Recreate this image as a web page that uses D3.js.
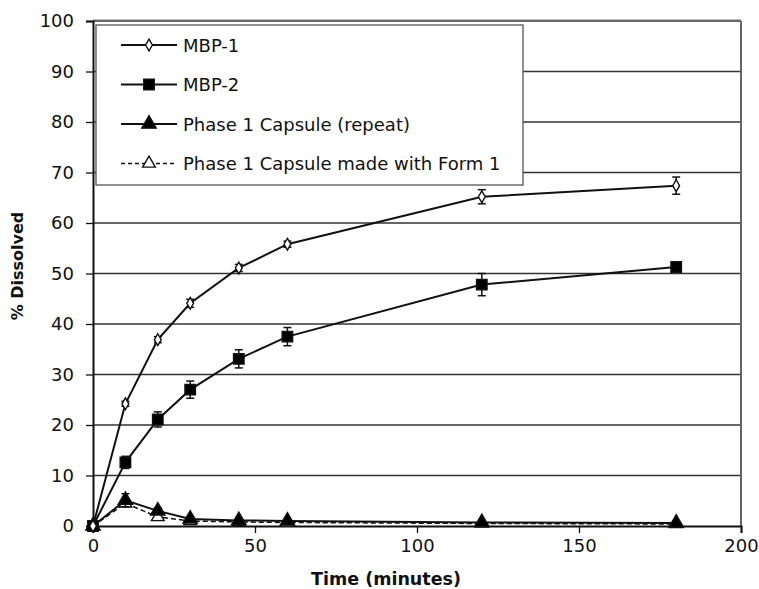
<!DOCTYPE html>
<html>
<head>
<meta charset="utf-8">
<script src="https://cdn.jsdelivr.net/npm/d3@7"></script>
<style>
  body { margin: 0; background: #fff; }
  text { font-family: "DejaVu Sans", Arial, sans-serif; fill: #111; }
</style>
</head>
<body>
<div id="chart"></div>
<script>
// data
var times = [0, 10, 20, 30, 45, 60, 120, 180];
var mbp1 = [0, 24.2, 36.9, 44.1, 51.1, 55.8, 65.2, 67.4];
var mbp1Err = [0, 0.5, 0.6, 0.8, 0.7, 0.6, 1.4, 1.7];
var mbp2 = [0, 12.6, 21.1, 27.0, 33.1, 37.5, 47.8, 51.3];
var mbp2Err = [0, 1.2, 1.5, 1.7, 1.8, 1.8, 2.2, 1.0];
var capRepeat = [0, 5.1, 3.0, 1.4, 1.1, 1.0, 0.7, 0.6];
var capRepeatErr = [0, 1.3, 0.6, 0.3, 0.2, 0.2, 0.1, 0.1];
var capForm1 = [0, 4.5, 1.8, 1.0, 0.8, 0.7, 0.5, 0.4];
var xTicks = [0, 50, 100, 150, 200];
var yTicks = [0, 10, 20, 30, 40, 50, 60, 70, 80, 90, 100];
var legendNames = ["MBP-1", "MBP-2", "Phase 1 Capsule (repeat)", "Phase 1 Capsule made with Form 1"];

var W = 759, H = 589;
var margin = {top: 21, right: 18, bottom: 63, left: 93},
    width = W - margin.left - margin.right,
    height = H - margin.top - margin.bottom;

var svg = d3.select("#chart").append("svg")
    .attr("width", W).attr("height", H);
var g = svg.append("g")
    .attr("transform", "translate(" + margin.left + "," + margin.top + ")");

var x = d3.scaleLinear().domain([0, 200]).range([0, width]);
var y = d3.scaleLinear().domain([0, 100]).range([height, 0]);

// gridlines
g.append("g").selectAll("line")
  .data(yTicks.slice(1))
  .enter().append("line")
  .attr("x1", 0).attr("x2", width)
  .attr("y1", function(d) { return y(d); })
  .attr("y2", function(d) { return y(d); })
  .attr("stroke", "#333").attr("stroke-width", 1.3);

// frame right + top
g.append("line").attr("x1", width).attr("x2", width).attr("y1", 0).attr("y2", height)
  .attr("stroke", "#666").attr("stroke-width", 2);
g.append("line").attr("x1", 0).attr("x2", width).attr("y1", -1).attr("y2", -1)
  .attr("stroke", "#777").attr("stroke-width", 1.2);

// axes
var xAxis = g.append("g")
  .attr("transform", "translate(0," + height + ")")
  .call(d3.axisBottom(x).tickValues(xTicks).tickSize(7).tickPadding(6));
var yAxis = g.append("g")
  .call(d3.axisLeft(y).tickValues(yTicks).tickSize(7).tickPadding(12));
[xAxis, yAxis].forEach(function(a) {
  a.select(".domain").attr("stroke", "#111").attr("stroke-width", 2);
  a.selectAll(".tick line").attr("stroke", "#111").attr("stroke-width", 1.3);
  a.selectAll(".tick text").style("font-size", "18px")
    .style("font-family", "'DejaVu Sans', sans-serif").attr("fill", "#111");
});

// legend box
var lg = g.append("g");
lg.append("rect")
  .attr("x", 3).attr("y", 4).attr("width", 427).attr("height", 160)
  .attr("fill", "#fff").attr("stroke", "#555").attr("stroke-width", 1.3);

var series = [
  {name: legendNames[0], vals: mbp1, err: mbp1Err, sym: d3.symbolDiamond, size: 40, fill: "#fff", dash: null},
  {name: legendNames[1], vals: mbp2, err: mbp2Err, sym: d3.symbolSquare, size: 110, fill: "#000", dash: null},
  {name: legendNames[2], vals: capRepeat, err: capRepeatErr, sym: d3.symbolTriangle, size: 90, fill: "#000", dash: null},
  {name: legendNames[3], vals: capForm1, err: null, sym: d3.symbolTriangle, size: 70, fill: "#fff", dash: "5,3"}
];

var line = d3.line()
  .x(function(d, i) { return x(times[i]); })
  .y(function(d) { return y(d); });

// draw series back to front
series.slice().reverse().forEach(function(s) {
  var sg = g.append("g");
  sg.append("path")
    .attr("d", line(s.vals))
    .attr("fill", "none").attr("stroke", "#111")
    .attr("stroke-width", s.dash ? 1.5 : 2)
    .attr("stroke-dasharray", s.dash);
  if (s.err) {
    s.vals.forEach(function(v, i) {
      if (!s.err[i]) return;
      var cx = x(times[i]), t = y(v + s.err[i]), b = y(v - s.err[i]);
      sg.append("line").attr("x1", cx).attr("x2", cx).attr("y1", t).attr("y2", b)
        .attr("stroke", "#111").attr("stroke-width", 1.5);
      [t, b].forEach(function(yy) {
        sg.append("line").attr("x1", cx - 4).attr("x2", cx + 4).attr("y1", yy).attr("y2", yy)
          .attr("stroke", "#111").attr("stroke-width", 1.5);
      });
    });
  }
  sg.selectAll("path.pt")
    .data(s.vals)
    .enter().append("path")
    .attr("class", "pt")
    .attr("transform", function(d, i) { return "translate(" + x(times[i]) + "," + y(d) + ")"; })
    .attr("d", d3.symbol().type(s.sym).size(s.size))
    .attr("fill", s.fill).attr("stroke", "#111").attr("stroke-width", 1.4);
});

// legend entries
series.forEach(function(s, i) {
  var ly = 24 + i * 39.5;
  lg.append("line").attr("x1", 28).attr("x2", 84).attr("y1", ly).attr("y2", ly)
    .attr("stroke", "#111").attr("stroke-width", s.dash ? 1.3 : 2)
    .attr("stroke-dasharray", s.dash ? "4,3" : null);
  lg.append("path")
    .attr("transform", "translate(56," + ly + ")")
    .attr("d", d3.symbol().type(s.sym).size(s.size))
    .attr("fill", s.fill).attr("stroke", "#111").attr("stroke-width", 1.4);
  lg.append("text")
    .attr("x", 90).attr("y", ly + 6.5)
    .style("font-size", "18px")
    .text(s.name);
});

// axis titles
svg.append("text")
  .attr("x", 386).attr("y", 585)
  .attr("text-anchor", "middle")
  .style("font-size", "17.5px").style("font-weight", "bold")
  .text("Time (minutes)");
svg.append("text")
  .attr("transform", "translate(23,266) rotate(-90)")
  .attr("text-anchor", "middle")
  .style("font-size", "16px").style("font-weight", "bold")
  .text("% Dissolved");
</script>
</body>
</html>
